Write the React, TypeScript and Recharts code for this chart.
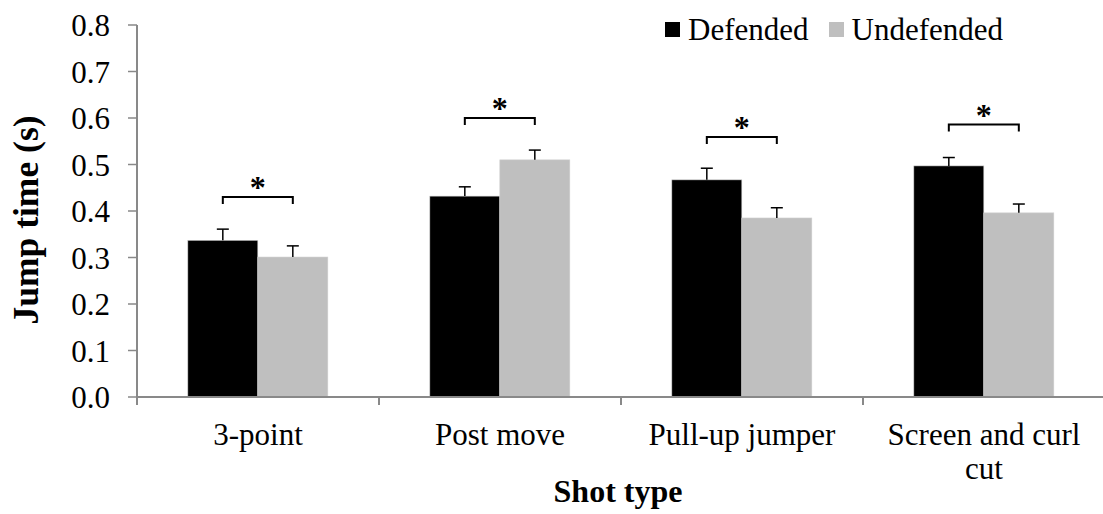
import { BarChart, Bar, XAxis, YAxis, Legend } from "recharts";

const categories = ["3-point", "Post move", "Pull-up jumper", "Screen and curl cut"];
const defended = [0.337, 0.432, 0.467, 0.497];
const undefended = [0.301, 0.51, 0.385, 0.396];
const defendedErr = [0.024, 0.02, 0.025, 0.018];
const undefendedErr = [0.024, 0.021, 0.022, 0.019];
// height of the significance bracket over each pair
const bracketLevel = [0.43, 0.6, 0.559, 0.586];
const yTicks = [0, 0.1, 0.2, 0.3, 0.4, 0.5, 0.6, 0.7, 0.8];

const FONT = "Liberation Serif, Times New Roman, Times, DejaVu Serif, serif";
const AXIS_GREY = "#898989";

const data = categories.map((name, i) => ({
  name,
  defended: defended[i],
  undefended: undefended[i],
  defendedErr: defendedErr[i],
  undefendedErr: undefendedErr[i],
  bracket: bracketLevel[i],
}));

const wrapLabel = (label: string) => {
  if (label.length <= 15) return [label];
  const cut = label.lastIndexOf(" ", 15);
  return [label.slice(0, cut), label.slice(cut + 1)];
};

const BarWithError = (props: any) => {
  const { x, y, width, height, fill, payload, valueKey, errKey, withBracket } = props;
  const value = payload[valueKey];
  const ppu = height / value;
  const cx = x + width / 2;
  const errTop = y - payload[errKey] * ppu;
  const base = y + height;
  let bracket = null;
  if (withBracket) {
    const by = base - payload.bracket * ppu;
    const x2 = cx + width;
    bracket = (
      <g>
        <path
          d={`M${cx},${by + 7} L${cx},${by} L${x2},${by} L${x2},${by + 7}`}
          stroke="#000"
          strokeWidth={2}
          fill="none"
        />
        <text
          x={(cx + x2) / 2}
          y={by + 1}
          textAnchor="middle"
          style={{ fontFamily: FONT }}
          fontWeight="bold"
          fontSize={32}
          fill="#000"
        >
          *
        </text>
      </g>
    );
  }
  return (
    <g>
      <rect
        x={x}
        y={y}
        width={width}
        height={height}
        fill={fill}
        stroke="#d0d0d0"
        strokeWidth={0.6}
      />
      <line x1={cx} y1={y} x2={cx} y2={errTop} stroke="#000" strokeWidth={1.5} />
      <line x1={cx - 6} y1={errTop} x2={cx + 6} y2={errTop} stroke="#000" strokeWidth={1.5} />
      {bracket}
    </g>
  );
};

const CategoryTick = (props: any) => {
  const { x, y, payload, index } = props;
  const half = payload.offset ?? 121;
  const lines = wrapLabel(payload.value);
  return (
    <g>
      <line x1={x - half} y1={y} x2={x - half} y2={y + 8} stroke={AXIS_GREY} strokeWidth={2} />
      {index === categories.length - 1 && (
        <line x1={x + half} y1={y} x2={x + half} y2={y + 8} stroke={AXIS_GREY} strokeWidth={2} />
      )}
      {lines.map((ln, i) => (
        <text
          key={i}
          x={x}
          y={y + 48 + i * 34}
          textAnchor="middle"
          style={{ fontFamily: FONT }}
          fontSize={31}
          fill="#000"
        >
          {ln}
        </text>
      ))}
    </g>
  );
};

const LegendContent = () => (
  <div
    style={{
      display: "flex",
      alignItems: "center",
      fontFamily: FONT,
      fontSize: 31,
      lineHeight: "35px",
      color: "#000",
      whiteSpace: "nowrap",
    }}
  >
    <span style={{ width: 15, height: 15, background: "#000", marginRight: 8 }} />
    <span style={{ marginRight: 20 }}>Defended</span>
    <span style={{ width: 15, height: 15, background: "#bfbfbf", marginRight: 8 }} />
    <span>Undefended</span>
  </div>
);

export default function App() {
  return (
    <div
      style={{
        position: "absolute",
        left: 0,
        top: 0,
        width: 1103,
        height: 514,
        overflow: "hidden",
        background: "#fff",
        fontFamily: FONT,
      }}
    >
      <BarChart
        width={1105}
        height={514}
        data={data}
        margin={{ top: 25, right: 0, left: 0, bottom: 0 }}
        barCategoryGap="21%"
        barGap={0}
        style={{ fontFamily: FONT }}
      >
        <XAxis
          dataKey="name"
          interval={0}
          height={117}
          tickLine={false}
          tickSize={0}
          tickMargin={0}
          axisLine={{ stroke: AXIS_GREY, strokeWidth: 2 }}
          tick={<CategoryTick />}
          label={{
            content: (p: any) => (
              <text
                x={p.viewBox.x + p.viewBox.width / 2 - 3}
                y={p.viewBox.y + 105}
                textAnchor="middle"
                style={{ fontFamily: FONT }}
                fontWeight="bold"
                fontSize={32}
                fill="#000"
              >
                Shot type
              </text>
            ),
          }}
        />
        <YAxis
          width={137}
          domain={[0, 0.8]}
          ticks={yTicks}
          interval={0}
          tickFormatter={(v: number) => v.toFixed(1)}
          tickSize={9}
          tickMargin={18}
          axisLine={{ stroke: AXIS_GREY, strokeWidth: 2 }}
          tickLine={{ stroke: AXIS_GREY, strokeWidth: 1.5 }}
          tick={{ style: { fontFamily: FONT }, fontSize: 31, fill: "#000" }}
          label={{
            content: (p: any) => {
              const cx = 38;
              const cy = p.viewBox.y + p.viewBox.height / 2 + 9;
              return (
                <text
                  x={cx}
                  y={cy}
                  transform={`rotate(-90, ${cx}, ${cy})`}
                  textAnchor="middle"
                  style={{ fontFamily: FONT }}
                  fontWeight="bold"
                  fontSize={35.5}
                  fill="#000"
                >
                  Jump time (s)
                </text>
              );
            },
          }}
        />
        <Legend
          layout="horizontal"
          verticalAlign="middle"
          align="center"
          content={<LegendContent />}
          wrapperStyle={{ position: "absolute", top: 12, left: 665, width: "auto", height: "auto" }}
        />
        <Bar
          dataKey="defended"
          name="Defended"
          fill="#000"
          isAnimationActive={false}
          shape={(p: any) => (
            <BarWithError {...p} valueKey="defended" errKey="defendedErr" withBracket />
          )}
        />
        <Bar
          dataKey="undefended"
          name="Undefended"
          fill="#bfbfbf"
          isAnimationActive={false}
          shape={(p: any) => (
            <BarWithError {...p} valueKey="undefended" errKey="undefendedErr" />
          )}
        />
      </BarChart>
    </div>
  );
}
